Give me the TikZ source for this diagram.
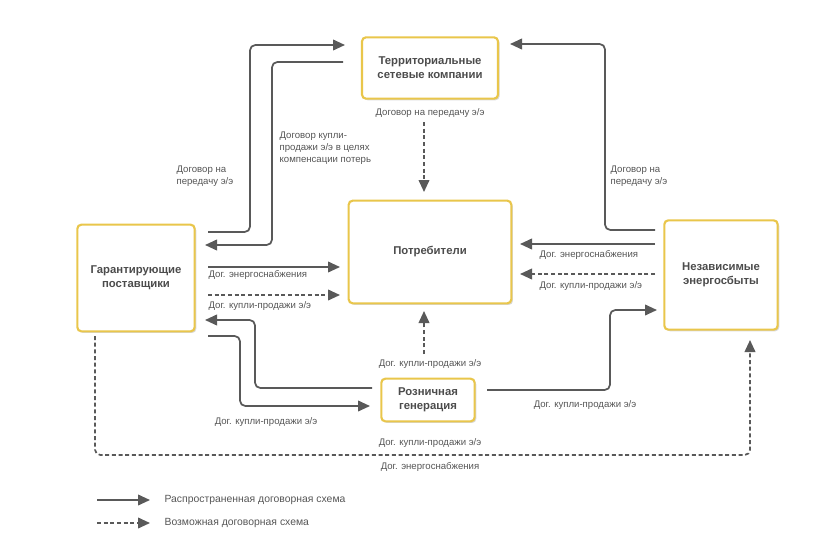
\documentclass[tikz,border=0pt]{standalone}
\usepackage{fontspec}
\setmainfont{Liberation Sans}
\usetikzlibrary{arrows.meta,shadows}
\definecolor{ln}{HTML}{595959}
\definecolor{tx}{HTML}{555555}
\definecolor{bd}{HTML}{E9C64B}
\begin{document}
\begin{tikzpicture}[x=0.75pt,y=-0.75pt,
 box/.style={draw=bd,line width=1.6pt,fill=white,rounded corners=3pt,align=center,font=\fontsize{8.5}{10.5}\selectfont\bfseries,text=tx!90!black,drop shadow={shadow xshift=1.2pt,shadow yshift=-1.2pt,opacity=0.3,fill=gray}},
 con/.style={draw=ln,line width=1.3pt,rounded corners=4pt,-{Triangle[length=9pt,width=8pt]}},
 dsh/.style={con,dash pattern=on 3pt off 2pt},
 lab/.style={text=tx,font=\fontsize{7.2}{9}\selectfont,inner sep=1pt}]
\useasboundingbox (0,0) rectangle (817,543);
\node[box,minimum width=102pt,minimum height=46pt] (tsk) at (430,68) {Территориальные\\сетевые компании};
\node[box,minimum width=122pt,minimum height=77pt] (pot) at (430,252) {Потребители};
\node[box,minimum width=88pt,minimum height=80pt] (gp) at (136,278) {Гарантирующие\\поставщики};
\node[box,minimum width=85pt,minimum height=82pt] (ne) at (721,275) {Независимые\\энергосбыты};
\node[box,minimum width=70pt,minimum height=32pt] (rg) at (428,400) {Розничная\\генерация};
% GP <-> TSK
\coordinate (a1) at (208,232); \coordinate (a2) at (345,45);
\draw[con] (a1) -| (250,140) |- (a2);
\coordinate (b1) at (343,62); \coordinate (b2) at (205,245);
\draw[con] (b1) -| (272,150) |- (b2);
\node[lab,anchor=north west,align=left] at (175,164) {Договор на\\передачу э/э};
\node[lab,anchor=north west,align=left] at (278,130) {Договор купли-\\продажи э/э в целях\\компенсации потерь};
% GP -> Pot
\coordinate (c1) at (208,267); \coordinate (c2) at (340,267);
\draw[con] (c1) -- (c2);
\node[lab,anchor=west] at (207,275) {Дог. энергоснабжения};
\coordinate (d1) at (208,295); \coordinate (d2) at (340,295);
\draw[dsh] (d1) -- (d2);
\node[lab,anchor=west] at (207,306) {Дог. купли-продажи э/э};
% TSK -> Pot
\coordinate (e1) at (424,122); \coordinate (e2) at (424,192);
\draw[dsh] (e1) -- (e2);
\node[lab] at (430,113) {Договор на передачу э/э};
% NE -> Pot
\coordinate (f1) at (655,244); \coordinate (f2) at (520,244);
\draw[con] (f1) -- (f2);
\node[lab,anchor=west] at (538,255) {Дог. энергоснабжения};
\coordinate (g1) at (655,274); \coordinate (g2) at (520,274);
\draw[dsh] (g1) -- (g2);
\node[lab,anchor=west] at (538,286) {Дог. купли-продажи э/э};
% NE -> TSK
\coordinate (h1) at (655,230); \coordinate (h2) at (510,44);
\draw[con] (h1) -| (605,140) |- (h2);
\node[lab,anchor=north west,align=left] at (609,164) {Договор на\\передачу э/э};
% RG -> Pot
\coordinate (i1) at (424,354); \coordinate (i2) at (424,311);
\draw[dsh] (i1) -- (i2);
\node[lab] at (430,364) {Дог. купли-продажи э/э};
% RG <-> GP
\coordinate (j1) at (372,388); \coordinate (j2) at (205,320);
\draw[con] (j1) -| (255,350) |- (j2);
\coordinate (k1) at (208,336); \coordinate (k2) at (370,406);
\draw[con] (k1) -| (240,370) |- (k2);
\node[lab] at (266,422) {Дог. купли-продажи э/э};
% RG -> NE
\coordinate (l1) at (487,390); \coordinate (l2) at (657,310);
\draw[con] (l1) -| (610,350) |- (l2);
\node[lab] at (585,405) {Дог. купли-продажи э/э};
% GP -> NE dashed
\coordinate (m1) at (95,336); \coordinate (m2) at (750,340);
\draw[dsh] (m1) |- (400,455) -| (m2);
\node[lab] at (430,443) {Дог. купли-продажи э/э};
\node[lab] at (430,467) {Дог. энергоснабжения};
% legend
\coordinate (n1) at (97,500); \coordinate (n2) at (150,500);
\draw[con] (n1) -- (n2);
\node[lab,anchor=west,font=\fontsize{7.8}{9}\selectfont] at (163,500) {Распространенная договорная схема};
\coordinate (o1) at (97,523); \coordinate (o2) at (150,523);
\draw[dsh] (o1) -- (o2);
\node[lab,anchor=west,font=\fontsize{7.8}{9}\selectfont] at (163,523) {Возможная договорная схема};
\end{tikzpicture}
\end{document}
